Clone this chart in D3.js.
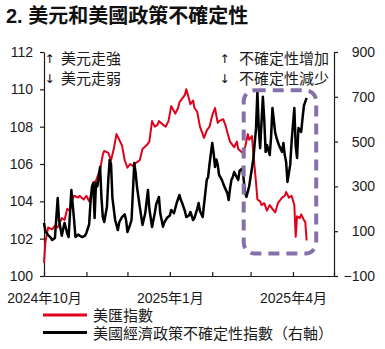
<!DOCTYPE html>
<html><head><meta charset="utf-8">
<script src="https://cdn.jsdelivr.net/npm/d3@7"></script>
<style>
html,body{margin:0;padding:0;background:#fff;}
svg{display:block;font-family:"Liberation Sans","Noto Sans CJK TC",sans-serif;}
</style></head>
<body><svg id="c" width="385" height="349"></svg>
<script>
const title = "2. 美元和美國政策不確定性";
const leftTicks = [100, 102, 104, 106, 108, 110, 112];
const rightTicks = [-100, 100, 300, 500, 700, 900];
const monthTicks = ["2024-10-01","2024-11-01","2024-12-01","2025-01-01","2025-02-01","2025-03-01","2025-04-01","2025-05-01"];
const monthLabels = {"2024-10-01":"2024年10月","2025-01-01":"2025年1月","2025-04-01":"2025年4月"};
const legendNames = ["美匯指數", "美國經濟政策不確定性指數（右軸）"];
const noteArrows = ["↑", "↓"];
const leftNotes = ["美元走強", "美元走弱"];
const rightNotes = ["不確定性增加", "不確定性減少"];
const boxDates = ["2025-02-24", "2025-04-18"];
const boxRange = [101.2, 109.95];

const usdDates = ["2024-10-01","2024-10-02","2024-10-04","2024-10-07","2024-10-09","2024-10-11","2024-10-14","2024-10-16","2024-10-18","2024-10-20","2024-10-21","2024-10-23","2024-10-26","2024-10-27","2024-10-30","2024-11-01","2024-11-03","2024-11-05","2024-11-06","2024-11-08","2024-11-09","2024-11-11","2024-11-13","2024-11-14","2024-11-17","2024-11-19","2024-11-21","2024-11-23","2024-11-25","2024-11-27","2024-11-29","2024-12-01","2024-12-03","2024-12-05","2024-12-06","2024-12-08","2024-12-10","2024-12-12","2024-12-15","2024-12-17","2024-12-19","2024-12-21","2024-12-23","2024-12-24","2024-12-27","2024-12-29","2024-12-31","2025-01-02","2025-01-05","2025-01-07","2025-01-08","2025-01-10","2025-01-12","2025-01-13","2025-01-15","2025-01-16","2025-01-18","2025-01-19","2025-01-21","2025-01-23","2025-01-24","2025-01-26","2025-01-28","2025-01-30","2025-02-01","2025-02-03","2025-02-05","2025-02-06","2025-02-09","2025-02-11","2025-02-12","2025-02-14","2025-02-16","2025-02-17","2025-02-19","2025-02-20","2025-02-23","2025-02-25","2025-02-27","2025-02-28","2025-03-02","2025-03-03","2025-03-05","2025-03-06","2025-03-08","2025-03-09","2025-03-11","2025-03-13","2025-03-15","2025-03-17","2025-03-19","2025-03-21","2025-03-23","2025-03-24","2025-03-26","2025-03-27","2025-03-29","2025-03-31","2025-04-02","2025-04-03","2025-04-04","2025-04-06","2025-04-07","2025-04-09","2025-04-10","2025-04-11"];
const usdValues = [100.7,101.8,102.6,102.5,102.7,102.6,103.1,103.0,103.6,103.5,104.0,104.3,104.2,104.3,104.1,104.3,104.0,104.5,105.0,105.1,105.3,105.7,106.5,106.7,106.6,106.2,106.8,107.6,107.3,107.0,106.2,105.8,106.0,105.9,106.0,106.1,106.2,106.8,107.0,107.2,108.3,108.0,108.1,108.3,108.1,108.0,108.3,109.1,108.7,109.0,109.3,109.5,109.7,110.0,109.5,109.2,109.4,109.0,108.8,108.0,107.8,107.4,107.8,108.0,108.6,109.0,108.2,108.3,108.4,108.0,107.7,107.2,107.0,106.9,107.2,106.8,106.6,106.9,107.6,107.3,107.5,106.6,105.0,104.1,104.0,103.8,103.9,103.5,103.8,103.6,103.4,103.9,104.1,104.2,104.3,104.5,104.2,104.3,103.8,102.1,103.2,103.1,103.3,103.0,102.9,101.9];

const epuDates = ["2024-10-01","2024-10-02","2024-10-04","2024-10-06","2024-10-07","2024-10-09","2024-10-11","2024-10-12","2024-10-14","2024-10-15","2024-10-16","2024-10-18","2024-10-19","2024-10-20","2024-10-21","2024-10-23","2024-10-24","2024-10-26","2024-10-27","2024-10-29","2024-10-31","2024-11-01","2024-11-03","2024-11-04","2024-11-05","2024-11-06","2024-11-07","2024-11-08","2024-11-09","2024-11-11","2024-11-12","2024-11-13","2024-11-14","2024-11-16","2024-11-17","2024-11-18","2024-11-19","2024-11-20","2024-11-22","2024-11-24","2024-11-25","2024-11-27","2024-11-29","2024-11-30","2024-12-01","2024-12-03","2024-12-04","2024-12-06","2024-12-07","2024-12-08","2024-12-10","2024-12-12","2024-12-14","2024-12-16","2024-12-17","2024-12-19","2024-12-21","2024-12-22","2024-12-24","2024-12-25","2024-12-27","2024-12-28","2024-12-30","2025-01-01","2025-01-02","2025-01-04","2025-01-06","2025-01-08","2025-01-09","2025-01-10","2025-01-12","2025-01-13","2025-01-15","2025-01-16","2025-01-18","2025-01-19","2025-01-21","2025-01-22","2025-01-23","2025-01-25","2025-01-26","2025-01-28","2025-01-29","2025-01-30","2025-02-01","2025-02-02","2025-02-03","2025-02-04","2025-02-05","2025-02-06","2025-02-08","2025-02-10","2025-02-12","2025-02-13","2025-02-14","2025-02-15","2025-02-16","2025-02-17","2025-02-19","2025-02-20","2025-02-21","2025-02-23","2025-02-24","2025-02-25","2025-02-26","2025-02-28","2025-03-01","2025-03-02","2025-03-03","2025-03-05","2025-03-06","2025-03-07","2025-03-08","2025-03-10","2025-03-11","2025-03-12","2025-03-13","2025-03-15","2025-03-16","2025-03-17","2025-03-19","2025-03-20","2025-03-21","2025-03-22","2025-03-24","2025-03-25","2025-03-26","2025-03-27","2025-03-28","2025-03-29","2025-03-30","2025-03-31","2025-04-02","2025-04-03","2025-04-04","2025-04-05","2025-04-06","2025-04-07","2025-04-08","2025-04-09","2025-04-11"];
const epuValues = [137,100,83,70,61,70,248,150,80,110,137,90,74,180,284,150,74,85,80,74,80,92,130,230,297,315,159,315,300,387,250,163,141,208,330,418,400,250,150,105,140,163,175,150,96,130,150,404,360,297,210,128,180,284,200,119,181,220,253,180,120,140,160,170,195,180,226,262,240,226,190,163,170,186,150,159,200,226,190,163,220,330,342,400,494,450,387,420,396,351,329,297,270,239,290,329,342,364,340,329,370,380,330,270,253,300,342,380,420,560,725,560,471,700,600,454,485,440,520,650,540,516,498,480,454,494,440,409,320,360,396,500,650,480,427,561,550,543,605,660,695];

const parse = d3.timeParse("%Y-%m-%d");
const svg = d3.select("#c");
const m = {l:44, r:334, t:52, b:276};
const x = d3.scaleTime().domain([parse("2024-10-01"), parse("2025-05-01")]).range([m.l, m.r]);
const yL = d3.scaleLinear().domain([100, 112]).range([m.b, m.t]);
const yR = d3.scaleLinear().domain([-100, 900]).range([m.b, m.t]);
const ink = "#1a1a1a";

svg.append("text").attr("x", 6).attr("y", 23).attr("font-size", 20).attr("font-weight", "bold")
  .attr("fill", "#111").text(title);

// axes
const gL = svg.append("g").attr("transform", `translate(${m.l},0)`)
  .call(d3.axisLeft(yL).tickValues(leftTicks).tickSize(4).tickPadding(7).tickSizeOuter(0));
const gR = svg.append("g").attr("transform", `translate(${m.r},0)`)
  .call(d3.axisRight(yR).tickValues(rightTicks).tickSize(4).tickSizeOuter(0).tickPadding(37));
gR.selectAll("text").attr("text-anchor", "end");
const gB = svg.append("g").attr("transform", `translate(0,${m.b})`)
  .call(d3.axisBottom(x).tickValues(monthTicks.map(parse)).tickSize(-4).tickSizeOuter(0)
    .tickFormat(d => monthLabels[d3.timeFormat("%Y-%m-%d")(d)] || ""));
gB.selectAll("text").attr("dy", null).attr("y", 27);
[gL, gR, gB].forEach(g => {
  g.selectAll("path").attr("stroke", ink).attr("stroke-width", 1.2);
  g.selectAll("line").attr("stroke", ink).attr("stroke-width", 1.2);
  g.selectAll("text").attr("font-size", 14).attr("fill", ink)
    .attr("font-family", "\"Liberation Sans\",\"Noto Sans CJK TC\",sans-serif");
});

// lines
const usd = usdDates.map((d, i) => ({d: parse(d), v: usdValues[i]}));
const epu = epuDates.map((d, i) => ({d: parse(d), v: epuValues[i]}));
svg.append("path").datum(usd).attr("fill", "none").attr("stroke", "#e0001b").attr("stroke-width", 2)
  .attr("stroke-linejoin", "round").attr("d", d3.line().x(d => x(d.d)).y(d => yL(d.v)));
svg.append("path").datum(epu).attr("fill", "none").attr("stroke", "#000").attr("stroke-width", 2.5)
  .attr("stroke-linejoin", "round").attr("d", d3.line().x(d => x(d.d)).y(d => yR(d.v)));

// dashed box
const bx0 = x(parse(boxDates[0])), bx1 = x(parse(boxDates[1]));
const by0 = yL(boxRange[1]), by1 = yL(boxRange[0]);
svg.append("rect").attr("x", bx0).attr("y", by0).attr("width", bx1 - bx0).attr("height", by1 - by0)
  .attr("rx", 11).attr("fill", "none").attr("stroke", "#8670aa").attr("stroke-width", 4)
  .attr("stroke-dasharray", "11,7");

// notes
function note(ax, tx, y, arrow, txt, anchor) {
  svg.append("text").attr("x", ax).attr("y", y - 1).attr("font-size", 12).attr("fill", "#000")
    .attr("font-family", "\"DejaVu Sans\",sans-serif").text(arrow);
  svg.append("text").attr("x", tx).attr("y", y).attr("font-size", 15).attr("fill", ink)
    .attr("text-anchor", anchor).text(txt);
}
leftNotes.forEach((t, i) => note(44.5, 61, 64 + i * 20, noteArrows[i], t, "start"));
rightNotes.forEach((t, i) => note(219.5, 329, 64 + i * 20, noteArrows[i], t, "end"));

// legend
const legColors = ["#e0001b", "#000"];
legendNames.forEach((t, i) => {
  const ly = 315 + i * 17.5;
  svg.append("line").attr("x1", 43).attr("x2", 87).attr("y1", ly).attr("y2", ly)
    .attr("stroke", legColors[i]).attr("stroke-width", 3);
  svg.append("text").attr("x", 93).attr("y", ly + 6).attr("font-size", 15).attr("fill", ink).text(t);
});
</script></body></html>
